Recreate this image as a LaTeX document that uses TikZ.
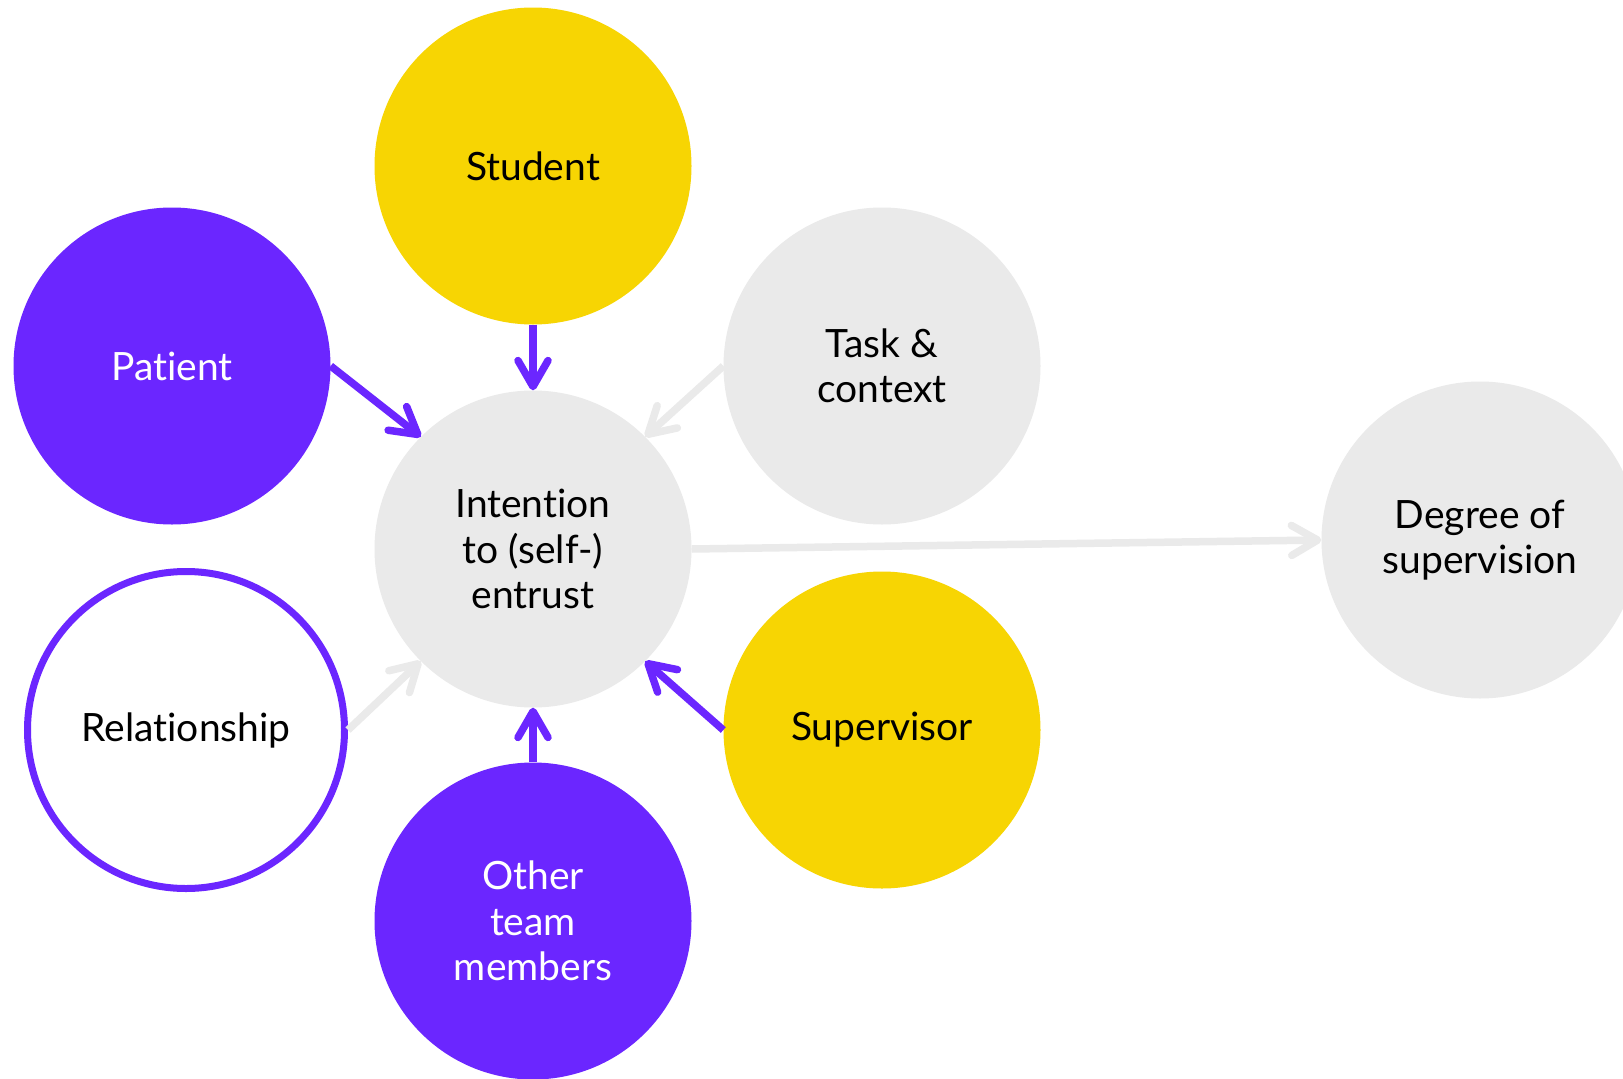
\documentclass[tikz,border=0pt]{standalone}
\usepackage{fontspec}
\setmainfont{Lato}[Ligatures={NoCommon}]
\usetikzlibrary{arrows.meta}
\definecolor{vio}{HTML}{6B26FF}
\definecolor{yel}{HTML}{F7D503}
\definecolor{lgray}{HTML}{EAEAEA}
\tikzset{
  bubble/.style={circle, minimum size=317pt, inner sep=0pt, align=center,
    font=\fontsize{39pt}{45.5pt}\selectfont},
  violetb/.style={bubble, fill=vio, text=white},
  yellowb/.style={bubble, fill=yel, text=black},
  grayb/.style={bubble, fill=lgray, text=black},
  ringb/.style={bubble, draw=vio, line width=7pt, fill=white, text=black},
  conn/.style={line width=7.5pt, -{Straight Barb[length=26pt,width=30pt,round]}},
  strong/.style={conn, draw=vio},
  weak/.style={conn, draw=lgray},
}
\begin{document}
\begin{tikzpicture}[x=1pt,y=-1pt]
\clip (0,0) rectangle (1623,1079);
\fill[white] (0,0) rectangle (1623,1079);
\node[yellowb] (student) at (533,166) {Student};
\node[violetb] (patient) at (172,366) {Patient};
\node[grayb] (task) at (882,366) {Task \&\\context};
\node[grayb] (intent) at (533,549) {Intention\\to (self-)\\entrust};
\node[grayb] (degree) at (1480,540) {Degree of\\supervision};
\node[yellowb] (super) at (882,730) {Supervisor};
\node[ringb] (rel) at (186,730) {Relationship};
\node[violetb] (other) at (533,921) {Other\\team\\members};
\draw[strong] (student.south) -- (intent.north);
\draw[strong] (patient.east) -- (intent.135);
\draw[weak] (task.west) -- (intent.45);
\draw[weak] (rel.east) -- (intent.225);
\draw[strong] (super.west) -- (intent.-45);
\draw[strong] (other.north) -- (intent.south);
\draw[weak] (intent.east) -- (degree.west);
\end{tikzpicture}
\end{document}
